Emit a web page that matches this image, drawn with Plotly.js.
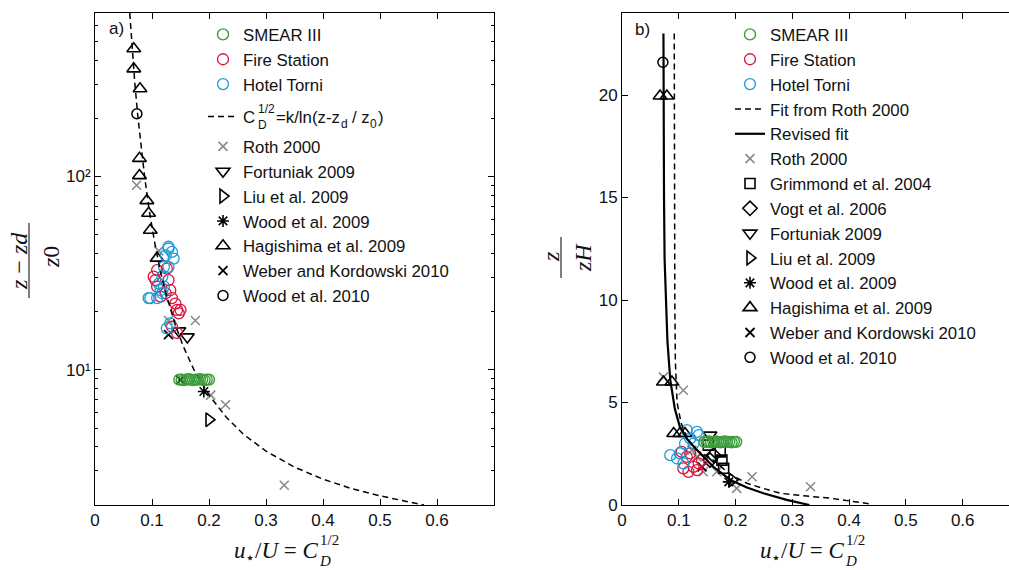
<!DOCTYPE html>
<html><head><meta charset="utf-8">
<script src="https://cdn.plot.ly/plotly-3.0.1.min.js"></script>
<style>
html,body{margin:0;padding:0;overflow:hidden;background:#fff}
#chart{width:1022px;height:570px}
</style>
</head><body><div id="chart"></div>
<script>
// ---------- tick labels ----------
const X_TICKS = [0, 0.1, 0.2, 0.3, 0.4, 0.5, 0.6];
const X_TICK_LABELS = ['0', '0.1', '0.2', '0.3', '0.4', '0.5', '0.6'];
const YA_TICKS = [10, 100];
const YA_TICK_LABELS = ['10\u00b9', '10\u00b2'];
const YA_MINOR = [2,3,4,5,6,7,8,9,20,30,40,50,60,70,80,90,200,300,400,500,600,700];
const YB_TICKS = [0, 5, 10, 15, 20];
const YB_TICK_LABELS = ['0', '5', '10', '15', '20'];

// ---------- panel a data: x = u*/U, y = (z-zd)/z0 ----------
const smearA_x = [0.148,0.152,0.156,0.160,0.164,0.168,0.172,0.176,0.180,0.184,0.188,0.192,0.196,0.200];
const smearA_y = [8.9,8.9,8.85,8.9,8.95,8.9,8.85,8.9,8.9,8.95,8.9,8.85,8.9,8.9];
const fireA_x = [0.103,0.109,0.126,0.106,0.109,0.129,0.132,0.124,0.135,0.141,0.144,0.147,0.144,0.135,0.115,0.150];
const fireA_y = [30.3,32.8,33.4,29.1,26.9,29.1,25.8,24.9,23.5,22.0,20.4,19.6,15.5,16.7,23.9,20.4];
const torniA_x = [0.129,0.135,0.138,0.124,0.121,0.129,0.118,0.121,0.115,0.097,0.109,0.118,0.132,0.126,0.112,0.129,0.094];
const torniA_y = [42.4,40.7,37.6,39.1,34.1,34.1,30.3,26.9,25.8,23.5,23.5,24.9,17.4,16.4,27.9,43.3,23.5];
const fitA_x = [0.061,0.065,0.07,0.075,0.08,0.087,0.095,0.105,0.115,0.125,0.14,0.155,0.175,0.2,0.23,0.26,0.3,0.35,0.4,0.45,0.5,0.55,0.577];
const fitA_y = [700,470,300,207,148,100,67,45,32,24.5,17.4,13.2,9.8,7.4,5.7,4.65,3.8,3.14,2.72,2.43,2.23,2.07,2.0];
const rothA_x = [0.073,0.112,0.129,0.176,0.203,0.229,0.332];
const rothA_y = [90,41.2,18.0,18.0,7.4,6.6,2.53];
const fortA_x = [0.147,0.162];
const fortA_y = [15.9,14.8];
const liuA_x = [0.200];
const liuA_y = [5.52];
const wood09A_x = [0.191];
const wood09A_y = [7.73];
const hagiA_x = [0.068,0.068,0.079,0.078,0.078,0.091,0.094,0.097,0.109];
const hagiA_y = [457,360,284,124,101,75,64.5,52.7,37.8];
const weberA_x = [0.129,0.150];
const weberA_y = [15.2,8.87];
const wood10A_x = [0.0735];
const wood10A_y = [211];

// ---------- panel b data: x = u*/U, y = z/zH ----------
const smearB_x = [0.145,0.149,0.153,0.157,0.161,0.165,0.169,0.173,0.177,0.181,0.185,0.189,0.193,0.197,0.201];
const smearB_y = [3.08,3.08,3.1,3.06,3.08,3.1,3.08,3.06,3.08,3.1,3.08,3.08,3.06,3.08,3.08];
const fireB_x = [0.108,0.117,0.126,0.135,0.141,0.105,0.114,0.132,0.120];
const fireB_y = [1.79,1.62,1.86,2.03,2.19,2.59,2.35,1.70,2.52];
const torniB_x = [0.114,0.132,0.135,0.120,0.085,0.102,0.097,0.111,0.126,0.108];
const torniB_y = [3.65,3.57,3.41,3.25,2.43,2.52,2.27,3.0,3.0,2.03];
const rothFitB_x = [0.092,0.092,0.092,0.093,0.094,0.097,0.104,0.114,0.13,0.161,0.19,0.22,0.25,0.279,0.32,0.367,0.40,0.438];
const rothFitB_y = [23,20,15,10,7,5,4,3.3,2.7,2.19,1.5,1.06,0.8,0.57,0.45,0.33,0.2,0.05];
const revFitB_x = [0.073,0.073,0.074,0.075,0.077,0.080,0.085,0.093,0.102,0.115,0.132,0.161,0.191,0.22,0.249,0.29,0.33];
const revFitB_y = [23,20,15,12,10,8,6.1,4.7,3.8,3.2,2.68,1.86,1.22,0.85,0.57,0.25,0];
const rothB_x = [0.073,0.108,0.123,0.132,0.143,0.167,0.202,0.229,0.332];
const rothB_y = [6.24,5.6,2.68,2.35,1.62,1.62,0.81,1.38,0.89];
const grimB_x = [0.152,0.173,0.176,0.179];
const grimB_y = [2.92,2.59,2.19,1.79];
const vogtB_x = [0.155,0.161];
const vogtB_y = [2.19,2.43];
const fortB_x = [0.155];
const fortB_y = [3.41];
const liuB_x = [0.194];
const liuB_y = [1.22];
const wood09B_x = [0.188];
const wood09B_y = [1.13];
const hagiB_x = [0.067,0.079,0.073,0.088,0.091,0.102,0.111];
const hagiB_y = [19.95,19.95,6.0,6.0,3.49,3.49,3.49];
const weberB_x = [0.141];
const weberB_y = [1.86];
const wood10B_x = [0.072];
const wood10B_y = [21.6];

// ---------- styling ----------
const W = 1022, H = 570, TOP = 13, BOT = 505;
const pxX = v => v / W;
const pxY = v => 1 - (v - TOP) / (BOT - TOP);
const GREEN = '#3a9d3a', RED = '#dc143c', CYAN = '#1f9ad6', GRAY = '#8a8a8a', BLACK = '#000';
const SANS = 'Liberation Sans, Arial, sans-serif';
const SERIF = 'Liberation Serif, Times New Roman, serif';

function mk(x, y, name, sym, color, size, lw, panel, legend, rank) {
  return {
    type: 'scatter', mode: 'markers', x: x, y: y, name: name,
    xaxis: panel === 'a' ? 'x' : 'x2', yaxis: panel === 'a' ? 'y' : 'y2',
    legend: legend, legendrank: rank, legendgroup: panel + rank,
    marker: {symbol: sym, color: color, size: size, line: {color: color, width: lw}},
    hoverinfo: 'skip'
  };
}
function ln(x, y, name, dash, width, panel, legend, rank) {
  return {
    type: 'scatter', mode: 'lines', x: x, y: y, name: name,
    xaxis: panel === 'a' ? 'x' : 'x2', yaxis: panel === 'a' ? 'y' : 'y2',
    legend: legend, legendrank: rank, legendgroup: panel + rank,
    line: {color: BLACK, width: width, dash: dash},
    hoverinfo: 'skip'
  };
}

const traces = [
  // panel a
  mk(rothA_x, rothA_y, 'Roth 2000', 'x-thin-open', GRAY, 9, 1.6, 'a', 'legend4', 1),
  mk(fortA_x, fortA_y, 'Fortuniak 2009', 'triangle-down-open', BLACK, 12, 1.6, 'a', 'legend4', 2),
  mk(liuA_x, liuA_y, 'Liu et al. 2009', 'triangle-right-open', BLACK, 12, 1.6, 'a', 'legend4', 3),
  mk(wood09A_x, wood09A_y, 'Wood et al. 2009', 'asterisk-open', BLACK, 10, 1.6, 'a', 'legend4', 4),
  mk(hagiA_x, hagiA_y, 'Hagishima et al. 2009', 'triangle-up-open', BLACK, 12, 1.6, 'a', 'legend4', 5),
  mk(weberA_x, weberA_y, 'Weber and Kordowski 2010', 'x-thin-open', BLACK, 9, 1.8, 'a', 'legend4', 6),
  mk(wood10A_x, wood10A_y, 'Wood et al. 2010', 'circle-open', BLACK, 10, 1.5, 'a', 'legend4', 7),
  mk(fireA_x, fireA_y, 'Fire Station', 'circle-open', RED, 11, 1.3, 'a', 'legend', 2),
  mk(torniA_x, torniA_y, 'Hotel Torni', 'circle-open', CYAN, 11, 1.3, 'a', 'legend', 3),
  ln(fitA_x, fitA_y, 'C', '6px,4px', 1.5, 'a', 'legend3', 1),
  mk(smearA_x, smearA_y, 'SMEAR III', 'circle-open', GREEN, 11, 1.4, 'a', 'legend', 1),
  // panel b
  mk(rothB_x, rothB_y, 'Roth 2000', 'x-thin-open', GRAY, 9, 1.6, 'b', 'legend2', 6),
  mk(grimB_x, grimB_y, 'Grimmond et al. 2004', 'square-open', BLACK, 10, 1.6, 'b', 'legend2', 7),
  mk(vogtB_x, vogtB_y, 'Vogt et al. 2006', 'diamond-open', BLACK, 11, 1.6, 'b', 'legend2', 8),
  mk(fortB_x, fortB_y, 'Fortuniak 2009', 'triangle-down-open', BLACK, 12, 1.6, 'b', 'legend2', 9),
  mk(liuB_x, liuB_y, 'Liu et al. 2009', 'triangle-right-open', BLACK, 12, 1.6, 'b', 'legend2', 10),
  mk(wood09B_x, wood09B_y, 'Wood et al. 2009', 'asterisk-open', BLACK, 10, 1.6, 'b', 'legend2', 11),
  mk(hagiB_x, hagiB_y, 'Hagishima et al. 2009', 'triangle-up-open', BLACK, 12, 1.6, 'b', 'legend2', 12),
  mk(weberB_x, weberB_y, 'Weber and Kordowski 2010', 'x-thin-open', BLACK, 9, 1.8, 'b', 'legend2', 13),
  mk(wood10B_x, wood10B_y, 'Wood et al. 2010', 'circle-open', BLACK, 10, 1.5, 'b', 'legend2', 14),
  mk(fireB_x, fireB_y, 'Fire Station', 'circle-open', RED, 11, 1.3, 'b', 'legend2', 2),
  mk(torniB_x, torniB_y, 'Hotel Torni', 'circle-open', CYAN, 11, 1.3, 'b', 'legend2', 3),
  ln(rothFitB_x, rothFitB_y, 'Fit from Roth 2000', '6px,4px', 1.5, 'b', 'legend2', 4),
  ln(revFitB_x, revFitB_y, 'Revised fit', 'solid', 2.2, 'b', 'legend2', 5),
  mk(smearB_x, smearB_y, 'SMEAR III', 'circle-open', GREEN, 11, 1.4, 'b', 'legend2', 1)
];

const axBase = {
  showline: true, linecolor: BLACK, linewidth: 1, mirror: 'ticks',
  ticks: 'inside', ticklen: 6, tickcolor: BLACK, tickwidth: 1,
  showgrid: false, zeroline: false, fixedrange: true,
  tickfont: {family: SANS, size: 17, color: '#111'}
};
const legBase = {
  font: {family: SANS, size: 16.8, color: '#111'}, bgcolor: 'rgba(0,0,0,0)',
  xanchor: 'left', yanchor: 'top', traceorder: 'grouped', tracegroupgap: 0,
  itemclick: false, itemdoubleclick: false
};

function note(text, x, y, size, family, extra) {
  return Object.assign({text: text, xref: 'paper', yref: 'paper', x: pxX(x), y: pxY(y),
    xanchor: 'left', yanchor: 'middle', showarrow: false,
    font: {family: family, size: size, color: '#111'}}, extra || {});
}

// x-axis title pieces (u* / U = C_D^{1/2}), offsets relative to the title's left edge
function xTitle(left) {
  return [
    note('<i>u</i>', left, 550, 23, SERIF),
    note('\u22c6', left + 11, 557, 16, SERIF),
    note('/<i>U</i> = <i>C</i>', left + 21, 550, 23, SERIF),
    note('1/2', left + 86, 540, 15, SERIF),
    note('<i>D</i>', left + 85, 561, 15, SERIF)
  ];
}

const annotations = [
  note('a)', 107, 28, 17, SANS),
  note('b)', 633, 30, 17, SANS),
  note('<i>z</i> \u2212 <i>zd</i>', 19, 261, 24, SERIF, {textangle: -90, xanchor: 'center'}),
  note('<i>z</i>0', 51, 257, 24, SERIF, {textangle: -90, xanchor: 'center'}),
  note('<i>z</i>', 551, 257, 24, SERIF, {textangle: -90, xanchor: 'center'}),
  note('<i>zH</i>', 583, 258, 24, SERIF, {textangle: -90, xanchor: 'center'}),
  // legend formula pieces following the legend's "C"
  note('1/2', 256, 109, 12, SANS),
  note('D', 256, 125, 12, SANS),
  note('=k/ln(z-z', 274, 117, 16.8, SANS),
  note('d', 339, 124, 12, SANS),
  note('/ z', 350, 117, 16.8, SANS),
  note('0', 368, 124, 12, SANS),
  note(')', 376, 117, 16.8, SANS)
].concat(xTitle(232), xTitle(758));

const layout = {
  width: W, height: H, showlegend: true,
  margin: {l: 0, r: 0, t: TOP, b: H - BOT, pad: 0},
  paper_bgcolor: '#fff', plot_bgcolor: '#fff',
  xaxis: Object.assign({}, axBase, {domain: [pxX(95), pxX(494)], range: [0, 0.7], tickmode: 'array', tickvals: X_TICKS, ticktext: X_TICK_LABELS, anchor: 'y'}),
  yaxis: Object.assign({}, axBase, {type: 'log', range: [Math.log10(2), Math.log10(700)], tickmode: 'array', tickvals: YA_TICKS, ticktext: YA_TICK_LABELS, anchor: 'x',
    minor: {tickmode: 'array', tickvals: YA_MINOR, ticks: 'inside', ticklen: 3, tickcolor: BLACK, showgrid: false}}),
  xaxis2: Object.assign({}, axBase, {domain: [pxX(622), pxX(1019.5)], range: [0, 0.7], tickmode: 'array', tickvals: X_TICKS, ticktext: X_TICK_LABELS, anchor: 'y2'}),
  yaxis2: Object.assign({}, axBase, {range: [0, 24], tickmode: 'array', tickvals: YB_TICKS, ticktext: YB_TICK_LABELS, anchor: 'x2'}),
  legend: Object.assign({}, legBase, {x: pxX(203), y: pxY(17)}),
  legend3: Object.assign({}, legBase, {x: pxX(203), y: pxY(99)}),
  legend4: Object.assign({}, legBase, {x: pxX(203), y: pxY(129)}),
  legend2: Object.assign({}, legBase, {x: pxX(730), y: pxY(17)}),
  shapes: [
    {type: 'line', xref: 'paper', yref: 'paper', x0: pxX(29), x1: pxX(29), y0: pxY(223), y1: pxY(298), line: {color: BLACK, width: 1}},
    {type: 'line', xref: 'paper', yref: 'paper', x0: pxX(561), x1: pxX(561), y0: pxY(237), y1: pxY(278), line: {color: BLACK, width: 1}}
  ],
  annotations: annotations
};

Plotly.newPlot('chart', traces, layout, {displayModeBar: false, staticPlot: true});
</script></body></html>
